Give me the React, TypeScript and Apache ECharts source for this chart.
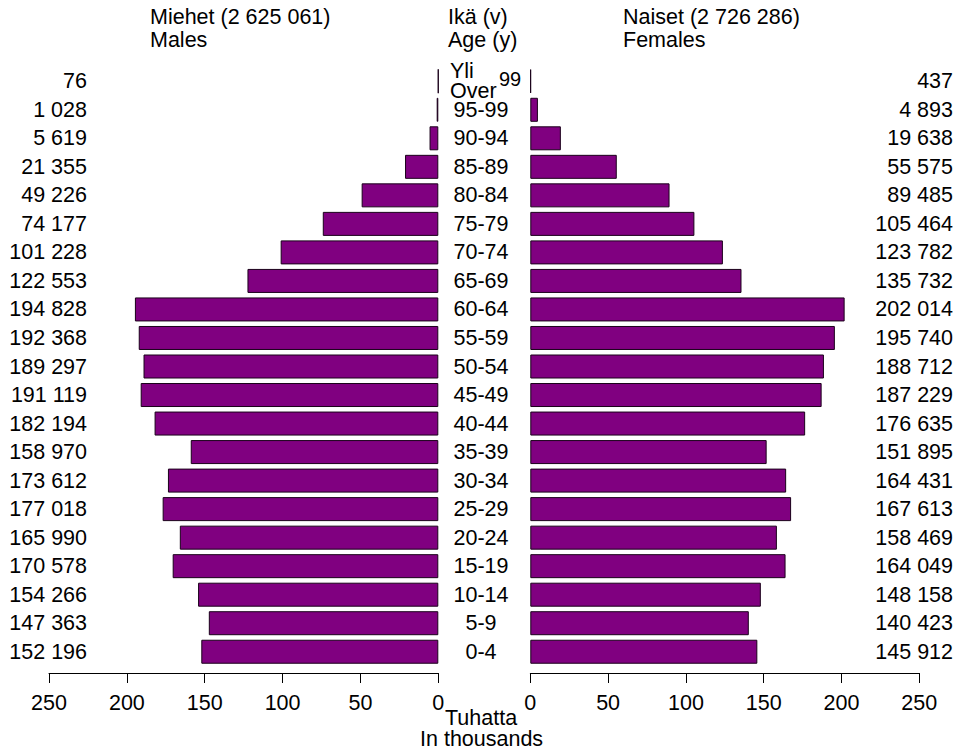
import React, { useEffect, useRef } from "react";
import * as echarts from "echarts";

const ageGroups = [
  "Yli 99", "95-99", "90-94", "85-89", "80-84", "75-79", "70-74", "65-69",
  "60-64", "55-59", "50-54", "45-49", "40-44", "35-39", "30-34", "25-29",
  "20-24", "15-19", "10-14", "5-9", "0-4",
];
const males = [
  76, 1028, 5619, 21355, 49226, 74177, 101228, 122553, 194828, 192368, 189297,
  191119, 182194, 158970, 173612, 177018, 165990, 170578, 154266, 147363, 152196,
];
const females = [
  437, 4893, 19638, 55575, 89485, 105464, 123782, 135732, 202014, 195740, 188712,
  187229, 176635, 151895, 164431, 167613, 158469, 164049, 148158, 140423, 145912,
];
const xTicks = [0, 50, 100, 150, 200, 250];

const FONT = "'Liberation Sans', Arial, sans-serif";
const FS = 21.5;
const fmt = (n: number) => String(n).replace(/\B(?=(\d{3})+(?!\d))/g, " ");

export default function App() {
  const ref = useRef<HTMLDivElement>(null);
  useEffect(() => {
    const chart = echarts.init(ref.current!, undefined, { renderer: "svg" });
    const axisLine = { show: true, lineStyle: { color: "#000", width: 1 } };
    const xAxisBase = {
      type: "value",
      min: xTicks[0],
      max: xTicks[xTicks.length - 1],
      interval: 50,
      offset: 7,
      axisLine,
      axisTick: { show: true, length: 10, lineStyle: { color: "#000" } },
      axisLabel: { color: "#000", fontSize: FS, fontFamily: FONT, margin: 19 },
      splitLine: { show: false },
    };
    const catBase = {
      type: "category",
      inverse: true,
      axisLine: { show: false },
      axisTick: { show: false },
      splitLine: { show: false },
    };
    const lbl = { color: "#000", fontSize: FS, fontFamily: FONT, interval: 0 };
    const barStyle = { color: "#800080", borderColor: "#1a001a", borderWidth: 1 };
    const txt = (text: string, left: number, top: number, size = FS, lh?: number) => ({
      type: "text",
      left,
      top,
      style: { text, fontSize: size, fontFamily: FONT, fill: "#000", ...(lh ? { lineHeight: lh } : {}) },
    });
    chart.setOption({
      animation: false,
      textStyle: { fontFamily: FONT },
      grid: [
        { left: 49, right: 958 - 438.3, top: 67, bottom: 84 },
        { left: 530.3, right: 958 - 919.3, top: 67, bottom: 84 },
      ],
      xAxis: [
        { ...xAxisBase, gridIndex: 0, inverse: true },
        { ...xAxisBase, gridIndex: 1 },
      ],
      yAxis: [
        {
          ...catBase,
          gridIndex: 0,
          position: "right",
          data: ageGroups,
          axisLabel: {
            ...lbl, align: "center", margin: 42.7,
            formatter: (v: string, i: number) => (i === 0 ? "" : v),
          },
        },
        {
          ...catBase,
          gridIndex: 0,
          position: "left",
          offset: -38,
          data: males.map(fmt),
          axisLabel: { ...lbl, align: "right", margin: 0 },
        },
        {
          ...catBase,
          gridIndex: 1,
          position: "right",
          offset: 33.7,
          data: females.map(fmt),
          axisLabel: { ...lbl, align: "right", margin: 0 },
        },
      ],
      series: [
        {
          type: "bar",
          name: "Miehet",
          xAxisIndex: 0,
          yAxisIndex: 0,
          barWidth: 24,
          itemStyle: barStyle,
          data: males.map((v) => v / 1000),
        },
        {
          type: "bar",
          name: "Naiset",
          xAxisIndex: 1,
          yAxisIndex: 2,
          barWidth: 24,
          itemStyle: barStyle,
          data: females.map((v) => v / 1000),
        },
      ],
      graphic: [
        txt("Miehet (2 625 061)", 150, 6),
        txt("Males", 150, 29),
        txt("Ikä (v)", 448, 6),
        txt("Age (y)", 448, 29),
        txt("Naiset (2 726 286)", 623, 6),
        txt("Females", 623, 29),
        txt("Yli", 450, 59.75, FS, 18),
        txt("Over", 450, 79.75, FS, 18),
        txt("99", 499, 68.5, 20, 17),
        txt("Tuhatta", 445, 706.75, FS, 18),
        txt("In thousands", 420, 727.75, FS, 18),
      ],
    });
    return () => chart.dispose();
  }, []);
  return (
    <div
      ref={ref}
      style={{ position: "fixed", left: 0, top: 0, width: 958, height: 750, background: "#fff" }}
    />
  );
}
